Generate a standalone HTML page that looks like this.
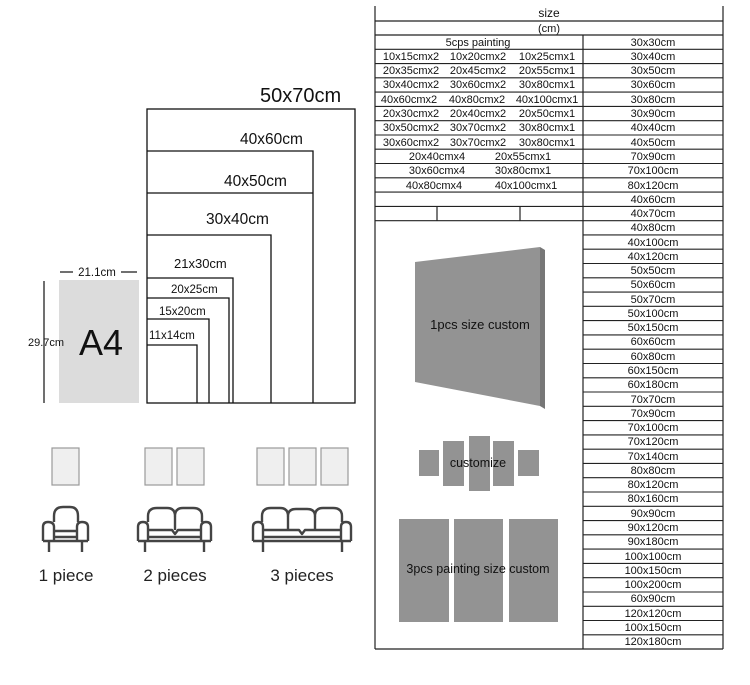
<!DOCTYPE html>
<html><head><meta charset="utf-8"><style>
html,body{margin:0;padding:0;background:#fff;}
svg{display:block;font-family:"Liberation Sans",Arial,sans-serif;}
</style></head><body>
<svg width="750" height="685" viewBox="0 0 750 685" xmlns="http://www.w3.org/2000/svg">
<g fill="none" stroke="#111" stroke-width="1.3">
<rect x="147" y="109" width="208" height="294"/>
<polyline points="147,151 313,151 313,403"/>
<polyline points="147,193 313,193"/>
<polyline points="147,235 271,235 271,403"/>
<polyline points="147,278 233,278 233,403"/>
<polyline points="147,298 229,298 229,403"/>
<polyline points="147,319 209,319 209,403"/>
<polyline points="147,345 197,345 197,403"/>
</g>
<g fill="#111">
<text x="260" y="102" font-size="20">50x70cm</text>
<text x="240" y="144" font-size="15.5">40x60cm</text>
<text x="224" y="186" font-size="15.5">40x50cm</text>
<text x="206" y="224" font-size="15.5">30x40cm</text>
<text x="174" y="268" font-size="13">21x30cm</text>
<text x="171" y="293" font-size="11.5">20x25cm</text>
<text x="159" y="315" font-size="11.5">15x20cm</text>
<text x="149" y="339" font-size="11.5">11x14cm</text>
</g>
<rect x="59" y="280" width="80" height="123" fill="#dcdcdc"/>
<text x="101" y="355" font-size="36" text-anchor="middle" fill="#111">A4</text>
<line x1="60" y1="272" x2="73" y2="272" stroke="#111" stroke-width="1.2"/>
<line x1="121" y1="272" x2="137" y2="272" stroke="#111" stroke-width="1.2"/>
<text x="97" y="276" font-size="11.5" text-anchor="middle" fill="#111">21.1cm</text>
<line x1="44" y1="281" x2="44" y2="403" stroke="#111" stroke-width="1.2"/>
<text x="28" y="346" font-size="11" fill="#111">29.7cm</text>
<g fill="#efefef" stroke="#999" stroke-width="1.2">
<rect x="52" y="448" width="27" height="37"/>
<rect x="145" y="448" width="27" height="37"/>
<rect x="177" y="448" width="27" height="37"/>
<rect x="257" y="448" width="27" height="37"/>
<rect x="289" y="448" width="27" height="37"/>
<rect x="321" y="448" width="27" height="37"/>
</g>
<g fill="none" stroke="#444" stroke-width="2.4" stroke-linejoin="round">
<path d="M54,522 V516 Q54,507 63,507 H70 Q78,507 78,516 V522"/>
<path d="M43,541 V527 Q43,522 48,522 Q54,522 54,527 V541"/>
<path d="M77,541 V527 Q77,522 82,522 Q88,522 88,527 V541"/>
<line x1="43" y1="541" x2="88" y2="541"/>
<line x1="54" y1="531" x2="77" y2="531"/><line x1="54" y1="537" x2="77" y2="537"/>
<line x1="49" y1="541" x2="49" y2="552"/><line x1="82" y1="541" x2="82" y2="552"/>
<path d="M148,522 V516 Q148,508 157,508 H167 Q175,508 175,516 Q175,508 183,508 H193 Q202,508 202,516 V522"/>
<line x1="175" y1="516" x2="175" y2="530"/>
<path d="M138,541 V527 Q138,522 143,522 Q148,522 148,527 V541"/>
<path d="M201,541 V527 Q201,522 206,522 Q211,522 211,527 V541"/>
<line x1="138" y1="541" x2="211" y2="541"/>
<path d="M148,530 H172 L175,534 L178,530 H201"/><line x1="148" y1="537" x2="201" y2="537"/>
<line x1="145" y1="541" x2="145" y2="552"/><line x1="204" y1="541" x2="204" y2="552"/>
<path d="M262,522 V516 Q262,508 271,508 H280 Q288,508 288,516 Q288,509 296,509 H307 Q315,509 315,516 Q315,508 323,508 H333 Q342,508 342,516 V522"/>
<line x1="288" y1="516" x2="288" y2="530"/><line x1="315" y1="516" x2="315" y2="530"/>
<path d="M253,541 V527 Q253,522 258,522 Q263,522 263,527 V541"/>
<path d="M341,541 V527 Q341,522 346,522 Q351,522 351,527 V541"/>
<line x1="253" y1="541" x2="351" y2="541"/>
<path d="M263,530 H299 L302,534 L305,530 H341"/><line x1="263" y1="537" x2="341" y2="537"/>
<line x1="263" y1="541" x2="263" y2="552"/><line x1="342" y1="541" x2="342" y2="552"/>
</g>
<g fill="#222" font-size="17" text-anchor="middle">
<text x="66" y="581">1 piece</text>
<text x="175" y="581">2 pieces</text>
<text x="302" y="581">3 pieces</text>
</g>
<g stroke="#222" stroke-width="1.2" fill="none">
<line x1="375" y1="6" x2="375" y2="649"/>
<line x1="723" y1="6" x2="723" y2="649"/>
<line x1="583" y1="35" x2="583" y2="649"/>
<line x1="375" y1="21" x2="723" y2="21"/>
<line x1="375" y1="35" x2="723" y2="35"/>
<line x1="375" y1="649" x2="723" y2="649"/>
<line x1="437" y1="206.4" x2="437" y2="220.7"/>
<line x1="520" y1="206.4" x2="520" y2="220.7"/>
</g>
<g stroke="#222" stroke-width="1.1">
<line x1="375" y1="49.3" x2="723" y2="49.3"/><line x1="375" y1="63.6" x2="723" y2="63.6"/><line x1="375" y1="77.8" x2="723" y2="77.8"/><line x1="375" y1="92.1" x2="723" y2="92.1"/><line x1="375" y1="106.4" x2="723" y2="106.4"/><line x1="375" y1="120.7" x2="723" y2="120.7"/><line x1="375" y1="135" x2="723" y2="135"/><line x1="375" y1="149.2" x2="723" y2="149.2"/><line x1="375" y1="163.5" x2="723" y2="163.5"/><line x1="375" y1="177.8" x2="723" y2="177.8"/><line x1="375" y1="192.1" x2="723" y2="192.1"/><line x1="375" y1="206.4" x2="723" y2="206.4"/><line x1="375" y1="220.7" x2="723" y2="220.7"/>
<line x1="583" y1="234.9" x2="723" y2="234.9"/><line x1="583" y1="249.2" x2="723" y2="249.2"/><line x1="583" y1="263.5" x2="723" y2="263.5"/><line x1="583" y1="277.8" x2="723" y2="277.8"/><line x1="583" y1="292.1" x2="723" y2="292.1"/><line x1="583" y1="306.3" x2="723" y2="306.3"/><line x1="583" y1="320.6" x2="723" y2="320.6"/><line x1="583" y1="334.9" x2="723" y2="334.9"/><line x1="583" y1="349.2" x2="723" y2="349.2"/><line x1="583" y1="363.5" x2="723" y2="363.5"/><line x1="583" y1="377.8" x2="723" y2="377.8"/><line x1="583" y1="392" x2="723" y2="392"/><line x1="583" y1="406.3" x2="723" y2="406.3"/><line x1="583" y1="420.6" x2="723" y2="420.6"/><line x1="583" y1="434.9" x2="723" y2="434.9"/><line x1="583" y1="449.2" x2="723" y2="449.2"/><line x1="583" y1="463.4" x2="723" y2="463.4"/><line x1="583" y1="477.7" x2="723" y2="477.7"/><line x1="583" y1="492" x2="723" y2="492"/><line x1="583" y1="506.3" x2="723" y2="506.3"/><line x1="583" y1="520.6" x2="723" y2="520.6"/><line x1="583" y1="534.8" x2="723" y2="534.8"/><line x1="583" y1="549.1" x2="723" y2="549.1"/><line x1="583" y1="563.4" x2="723" y2="563.4"/><line x1="583" y1="577.7" x2="723" y2="577.7"/><line x1="583" y1="592" x2="723" y2="592"/><line x1="583" y1="606.3" x2="723" y2="606.3"/><line x1="583" y1="620.5" x2="723" y2="620.5"/><line x1="583" y1="634.8" x2="723" y2="634.8"/>
</g>
<g fill="#111" font-size="11" text-anchor="middle">
<text x="549" y="17" font-size="12">size</text>
<text x="549" y="32">(cm)</text>
<text x="478" y="46">5cps painting</text>
<text x="411" y="60">10x15cmx2</text><text x="478" y="60">10x20cmx2</text><text x="547" y="60">10x25cmx1</text>
<text x="411" y="74">20x35cmx2</text><text x="478" y="74">20x45cmx2</text><text x="547" y="74">20x55cmx1</text>
<text x="411" y="88">30x40cmx2</text><text x="478" y="88">30x60cmx2</text><text x="547" y="88">30x80cmx1</text>
<text x="409" y="103">40x60cmx2</text><text x="477" y="103">40x80cmx2</text><text x="547" y="103">40x100cmx1</text>
<text x="411" y="117">20x30cmx2</text><text x="478" y="117">20x40cmx2</text><text x="547" y="117">20x50cmx1</text>
<text x="411" y="131">30x50cmx2</text><text x="478" y="131">30x70cmx2</text><text x="547" y="131">30x80cmx1</text>
<text x="411" y="146">30x60cmx2</text><text x="478" y="146">30x70cmx2</text><text x="547" y="146">30x80cmx1</text>
<text x="437" y="160">20x40cmx4</text><text x="523" y="160">20x55cmx1</text>
<text x="437" y="174">30x60cmx4</text><text x="523" y="174">30x80cmx1</text>
<text x="434" y="189">40x80cmx4</text><text x="526" y="189">40x100cmx1</text>
</g>
<g fill="#111" font-size="11" text-anchor="middle">
<text x="653" y="46">30x30cm</text><text x="653" y="60">30x40cm</text><text x="653" y="74">30x50cm</text><text x="653" y="88">30x60cm</text><text x="653" y="103">30x80cm</text><text x="653" y="117">30x90cm</text><text x="653" y="131">40x40cm</text><text x="653" y="146">40x50cm</text><text x="653" y="160">70x90cm</text><text x="653" y="174">70x100cm</text><text x="653" y="189">80x120cm</text><text x="653" y="203">40x60cm</text><text x="653" y="217">40x70cm</text>
<text x="653" y="231">40x80cm</text><text x="653" y="246">40x100cm</text><text x="653" y="260">40x120cm</text><text x="653" y="274">50x50cm</text><text x="653" y="288">50x60cm</text><text x="653" y="303">50x70cm</text><text x="653" y="317">50x100cm</text><text x="653" y="331">50x150cm</text><text x="653" y="345">60x60cm</text><text x="653" y="360">60x80cm</text><text x="653" y="374">60x150cm</text><text x="653" y="388">60x180cm</text><text x="653" y="403">70x70cm</text><text x="653" y="417">70x90cm</text><text x="653" y="431">70x100cm</text><text x="653" y="445">70x120cm</text><text x="653" y="460">70x140cm</text><text x="653" y="474">80x80cm</text><text x="653" y="488">80x120cm</text><text x="653" y="502">80x160cm</text><text x="653" y="517">90x90cm</text><text x="653" y="531">90x120cm</text><text x="653" y="545">90x180cm</text><text x="653" y="560">100x100cm</text><text x="653" y="574">100x150cm</text><text x="653" y="588">100x200cm</text><text x="653" y="602">60x90cm</text><text x="653" y="617">120x120cm</text><text x="653" y="631">100x150cm</text><text x="653" y="645">120x180cm</text>
</g>
<polygon points="540,247 545,250 545,409 540,406" fill="#777"/>
<polygon points="415,262 540,247 540,406 415,382" fill="#939393"/>
<text x="480" y="329" font-size="13" text-anchor="middle" fill="#111">1pcs size custom</text>
<g fill="#939393">
<rect x="419" y="450" width="20" height="26"/>
<rect x="443" y="441" width="21" height="45"/>
<rect x="469" y="436" width="21" height="55"/>
<rect x="493" y="441" width="21" height="45"/>
<rect x="518" y="450" width="21" height="26"/>
<rect x="399" y="519" width="50" height="103"/>
<rect x="454" y="519" width="49" height="103"/>
<rect x="509" y="519" width="49" height="103"/>
</g>
<text x="478" y="467" font-size="12.5" text-anchor="middle" fill="#111">customize</text>
<text x="478" y="573" font-size="12.5" text-anchor="middle" fill="#111">3pcs painting size custom</text>
</svg>
</body></html>
